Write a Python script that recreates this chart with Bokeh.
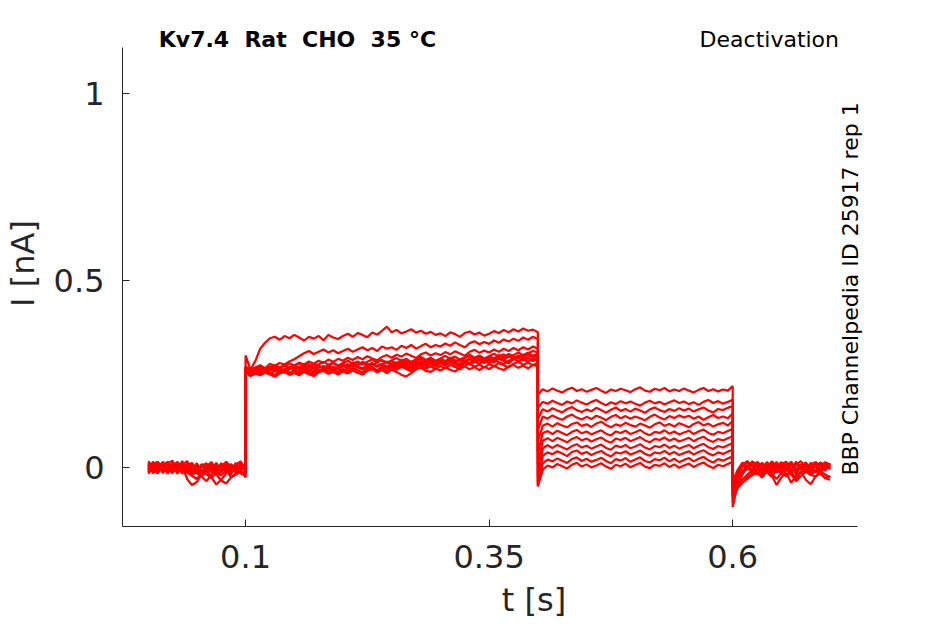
import math
from bokeh.plotting import figure
from bokeh.models import Range1d, FixedTicker, Label, ColumnDataSource
from bokeh.embed import file_html
from bokeh.resources import INLINE

# ---------------- data (time in ms, current in pA) ----------------
t_ms = [
    0, 5, 10, 15, 20, 25, 30, 35, 40, 45, 50, 55, 60, 65, 70, 75, 80, 85, 90, 95, 100,
    100, 105, 110, 115, 120, 125, 130, 135, 140, 145, 150, 155, 160, 165, 170, 175, 180, 185, 190, 195,
    200, 205, 210, 215, 220, 225, 230, 235, 240, 245, 250, 255, 260, 265, 270, 275, 280, 285, 290, 295,
    300, 305, 310, 315, 320, 325, 330, 335, 340, 345, 350, 355, 360, 365, 370, 375, 380, 385, 390, 395, 400,
    400, 405, 410, 415, 420, 425, 430, 435, 440, 445, 450, 455, 460, 465, 470, 475, 480, 485, 490, 495,
    500, 505, 510, 515, 520, 525, 530, 535, 540, 545, 550, 555, 560, 565, 570, 575, 580, 585, 590, 595, 600,
    600, 605, 610, 615, 620, 625, 630, 635, 640, 645, 650, 655, 660, 665, 670, 675, 680, 685, 690, 695, 700,
]

i_pa_01 = [
    6, -10, 14, 4, -16, 11, -6, 18, -12, -22, -30, -14, 8, -4, 13, -10, 6, -18, 9, -8, 14,
    300, 262, 285, 318, 334, 346, 350, 342, 352, 346,
    355, 348, 340, 350, 345, 352, 341, 355, 348, 344,
    352, 358, 350, 360, 355, 349, 361, 356, 366, 377,
    362, 368, 359, 364, 370, 361, 366, 358, 363, 355,
    359, 352, 362, 357, 350, 360, 364, 356, 361, 353,
    358, 365, 360, 368, 362, 370, 364, 372, 366, 369, 362,
    195, 210, 204, 212, 206, 201, 209, 214, 205, 210,
    203, 208, 213, 206, 200, 209, 205, 211, 207, 202,
    210, 215, 206, 203, 211, 207, 213, 204, 209, 205,
    212, 206, 201, 208, 213, 205, 210, 204, 209, 206, 218,
    -105, -45, -18, 4, 14, -8, 11, -4, 17, 6, -12, 9, -6, 15, 2, -10, 13, 4, -8, 11, 0,
]
i_pa_02 = [
    -12, 8, -4, 16, 2, -15, 10, -8, 4, -18, -12, 6, -13, 11, -20, -8, 16, 4, -12, 8, 0,
    270, 262, 268, 274, 266, 278, 272, 280, 276, 284,
    290, 298, 306, 312, 304, 310, 316, 308, 314, 306,
    312, 318, 310, 316, 322, 314, 320, 312, 324, 318,
    322, 315, 326, 320, 328, 318, 325, 331, 322, 328,
    324, 332, 326, 335, 328, 322, 333, 338, 330, 336,
    331, 340, 334, 343, 337, 345, 339, 348, 342, 350, 344,
    160, 176, 171, 179, 173, 168, 177, 172, 180, 174,
    169, 176, 181, 173, 167, 175, 170, 178, 172, 177,
    171, 166, 174, 179, 172, 176, 169, 175, 180, 173,
    177, 170, 175, 168, 176, 181, 173, 178, 171, 176, 182,
    -60, -25, 8, -6, 16, 4, -12, 13, -2, 8, -15, 6, 16, -4, 9, -13, 8, 15, -6, 12, 4,
]
i_pa_03 = [
    17, 4, -8, 12, -13, 6, 15, -4, 10, -8, -14, -24, -36, -18, -6, 12, -4, 8, -14, 6, -10,
    266, 258, 264, 270, 262, 268, 275, 267, 272, 279,
    273, 281, 276, 284, 278, 286, 280, 289, 283, 291,
    286, 294, 288, 296, 290, 298, 292, 287, 296, 301,
    294, 302, 297, 305, 299, 293, 303, 308, 300, 306,
    301, 309, 303, 311, 305, 299, 310, 315, 307, 313,
    308, 316, 310, 318, 312, 320, 314, 322, 316, 324, 318,
    130, 156, 150, 159, 153, 148, 157, 162, 154, 149,
    156, 151, 160, 154, 147, 155, 161, 152, 157, 150,
    158, 153, 147, 156, 161, 154, 149, 157, 152, 159,
    153, 158, 150, 156, 161, 153, 148, 157, 154, 160, 165,
    -75, -38, -16, 6, -10, 14, -4, 10, -13, 12, 2, -8, 15, -12, 6, 13, -6, 9, -15, 8, -4,
]
i_pa_04 = [
    -4, 13, -11, 6, 16, -8, 2, 12, -15, 4, -10, 8, -6, -26, -45, -32, -15, -6, 10, -12, -16,
    262, 252, 258, 264, 256, 261, 267, 259, 264, 270,
    263, 268, 261, 270, 265, 272, 266, 274, 268, 263,
    271, 277, 269, 275, 281, 273, 279, 271, 277, 284,
    276, 282, 274, 286, 279, 285, 277, 283, 289, 281,
    287, 280, 289, 283, 291, 285, 279, 290, 295, 287,
    293, 286, 296, 289, 298, 291, 300, 294, 302, 296, 300,
    100, 137, 131, 140, 133, 128, 137, 142, 134, 129,
    136, 130, 139, 134, 127, 136, 141, 132, 138, 131,
    137, 132, 127, 136, 142, 134, 129, 138, 133, 140,
    134, 139, 131, 137, 128, 135, 141, 133, 137, 132, 145,
    -50, -20, 4, 14, -8, 10, -16, 6, 13, -6, 11, -22, -8, 10, -4, 15, -12, 6, 13, -2, 10,
]
i_pa_05 = [
    10, -15, 6, -6, 12, 19, -10, 4, -30, -46, -38, -18, 4, -12, 6, -13, 8, -8, 13, -15, -20,
    258, 248, 254, 249, 257, 251, 260, 253, 258, 252,
    261, 255, 263, 257, 252, 262, 258, 266, 259, 264,
    258, 267, 261, 269, 263, 271, 265, 259, 270, 266,
    273, 266, 275, 269, 264, 274, 279, 271, 277, 270,
    279, 273, 282, 275, 270, 281, 276, 284, 278, 286,
    280, 288, 282, 277, 286, 291, 284, 289, 283, 292, 287,
    70, 112, 118, 110, 119, 113, 108, 117, 121, 112,
    116, 109, 118, 123, 114, 108, 116, 112, 120, 114,
    110, 118, 113, 107, 116, 121, 112, 117, 110, 119,
    114, 108, 117, 122, 113, 118, 110, 116, 120, 113, 125,
    -65, -48, -32, -24, -16, -10, -22, -6, -16, -30, -14, -4, -18, -36, -22, -10, -20, -6, -16, -28, -22,
]
i_pa_06 = [
    -16, 0, 12, -10, 8, -4, 16, -13, 6, -6, 12, -11, 4, 15, -8, 6, -13, 10, -4, 12, -4,
    268, 258, 264, 259, 267, 262, 270, 264, 259, 268,
    273, 266, 275, 269, 277, 271, 265, 274, 280, 272,
    278, 271, 281, 275, 283, 277, 272, 282, 287, 279,
    285, 278, 288, 282, 276, 286, 291, 283, 289, 281,
    291, 285, 294, 288, 283, 293, 298, 290, 296, 289,
    298, 292, 301, 295, 304, 297, 291, 302, 307, 299, 304,
    40, 92, 98, 90, 99, 93, 87, 96, 101, 92,
    97, 89, 95, 100, 91, 86, 97, 93, 99, 90,
    95, 101, 92, 87, 96, 93, 100, 91, 97, 89,
    94, 99, 90, 97, 102, 93, 88, 96, 92, 98, 104,
    -40, -10, 12, -4, 17, 8, -10, 15, 4, -13, 10, 16, -6, 12, -2, 8, -12, 15, 6, -8, 12,
]
i_pa_07 = [
    8, -6, -15, 13, -4, 10, -12, 8, 18, -10, 4, -16, -8, 8, -18, -34, -42, -26, -18, -11, -13,
    255, 245, 251, 247, 254, 249, 243, 252, 256, 248,
    253, 247, 256, 250, 245, 255, 259, 251, 256, 249,
    258, 252, 260, 254, 249, 259, 263, 255, 261, 253,
    262, 256, 248, 244, 253, 263, 267, 259, 256, 265,
    260, 268, 262, 257, 267, 271, 263, 269, 261, 270,
    264, 272, 266, 261, 271, 275, 267, 273, 265, 276, 270,
    10, 72, 79, 71, 80, 74, 68, 77, 82, 73,
    78, 70, 76, 81, 72, 67, 78, 74, 80, 71,
    76, 82, 73, 68, 77, 74, 81, 72, 78, 70,
    75, 80, 71, 78, 83, 74, 69, 77, 73, 79, 84,
    -80, -55, -40, -30, -20, -12, -26, -10, -20, -46, -26, -14, -40, -22, -10, -32, -44, -24, -14, -28, -32,
]
i_pa_08 = [
    -8, 16, 4, -12, 15, -6, 8, -16, 12, 0, -13, 10, -4, 13, -11, 4, 15, -10, 6, -8, 10,
    264, 255, 261, 256, 265, 259, 266, 260, 254, 263,
    268, 261, 270, 264, 258, 267, 272, 265, 270, 263,
    272, 266, 275, 269, 263, 273, 278, 270, 276, 268,
    277, 271, 280, 274, 268, 279, 284, 276, 282, 274,
    283, 277, 286, 280, 274, 285, 290, 282, 288, 280,
    288, 282, 291, 285, 279, 290, 295, 287, 293, 285, 292,
    -20, 52, 60, 53, 61, 55, 49, 58, 63, 54,
    59, 51, 57, 62, 53, 48, 59, 55, 61, 52,
    57, 63, 54, 49, 58, 55, 62, 53, 59, 51,
    56, 61, 52, 59, 64, 55, 50, 58, 54, 60, 66,
    -55, -28, -8, 6, -14, 10, -4, 13, -11, 4, 15, -8, 10, -18, 6, 12, -10, 4, -15, 8, 2,
]
i_pa_09 = [
    13, -2, -13, 8, -10, 15, 0, -11, 6, 13, -6, -22, -10, 4, -15, 10, -6, -25, -16, -6, -26,
    270, 260, 266, 272, 264, 270, 262, 268, 275, 267,
    273, 279, 271, 277, 269, 276, 283, 275, 281, 273,
    280, 286, 278, 284, 276, 283, 290, 282, 288, 280,
    287, 293, 285, 291, 283, 289, 296, 288, 294, 286,
    292, 299, 291, 297, 289, 295, 302, 294, 300, 292,
    298, 305, 297, 303, 295, 301, 308, 300, 306, 312, 308,
    -40, 32, 41, 36, 44, 38, 31, 42, 46, 37,
    42, 34, 40, 45, 36, 30, 41, 38, 44, 35,
    40, 46, 37, 32, 41, 38, 45, 36, 42, 34,
    39, 44, 35, 42, 47, 38, 33, 41, 37, 43, 48,
    -45, -14, 8, 18, 4, -10, 13, 2, -6, 16, -4, 12, -13, 8, 18, -2, 10, -12, 6, 15, 8,
]
i_pa_10 = [
    -6, 10, 16, -14, 4, -11, 13, 6, -8, 10, -16, 6, 12, -10, 4, -6, 12, -15, 8, 17, -8,
    260, 250, 256, 251, 259, 253, 248, 257, 261, 254,
    259, 252, 261, 256, 250, 260, 264, 257, 262, 255,
    264, 258, 266, 260, 255, 265, 269, 261, 267, 259,
    268, 262, 270, 264, 258, 268, 273, 265, 271, 263,
    272, 266, 275, 269, 263, 273, 278, 270, 276, 268,
    277, 271, 280, 274, 268, 278, 283, 275, 281, 273, 282,
    -48, 12, 22, 17, 25, 19, 13, 23, 28, 18,
    24, 16, 21, 27, 18, 12, 23, 19, 26, 16,
    22, 28, 18, 14, 23, 20, 27, 17, 24, 15,
    21, 26, 17, 24, 29, 20, 14, 23, 19, 25, 30,
    -92, -50, -32, -18, -8, -18, -4, -12, -24, -6, -16, -22, -10, -30, -12, -4, -18, -24, -10, -18, -26,
]
i_pa_11 = [
    2, -12, 8, 12, -6, 4, -16, 10, -4, -15, 8, -8, -18, -28, -12, -20, -8, 4, -12, -4, 6,
    265, 254, 260, 266, 258, 263, 257, 265, 260, 268,
    262, 270, 264, 259, 268, 273, 265, 271, 263, 269,
    275, 268, 277, 271, 265, 274, 280, 272, 278, 270,
    279, 273, 282, 276, 270, 280, 285, 277, 283, 275,
    285, 279, 288, 282, 276, 286, 291, 283, 289, 281,
    290, 284, 293, 287, 281, 291, 296, 288, 294, 299, 295,
    -50, -5, 6, 1, 10, 4, -2, 8, 13, 3,
    9, 1, 6, 12, 3, -3, 8, 4, 11, 1,
    7, 13, 3, -1, 8, 5, 12, 2, 9, 0,
    6, 11, 2, 9, 14, 5, -1, 8, 4, 10, 16,
    -35, -6, 14, 2, -12, 16, 6, -8, 12, -4, 13, 4, -10, 16, -6, 10, 2, -12, 15, -4, 6,
]

x_ticks = [0.1, 0.35, 0.6]
x_tick_labels = ["0.1", "0.35", "0.6"]
y_ticks = [0, 0.5, 1]
y_tick_labels = ["0", "0.5", "1"]
x_limits = (-0.0263, 0.7277)
y_limits = (-0.157, 1.124)

# double gaps kept visible in SVG with a no-break space before each normal space
title_text = "Kv7.4\u00a0 Rat\u00a0 CHO\u00a0 35 °C"
protocol_text = "Deactivation"
source_text = "BBP Channelpedia ID 25917 rep 1"
x_label = "t [s]"
y_label = "I [nA]"

# ---------------- figure ----------------
traces = [i_pa_01, i_pa_02, i_pa_03, i_pa_04, i_pa_05, i_pa_06,
          i_pa_07, i_pa_08, i_pa_09, i_pa_10, i_pa_11]
t_s = [v / 1000.0 for v in t_ms]
src = ColumnDataSource(dict(
    xs=[t_s for _ in traces],
    ys=[[v / 1000.0 for v in tr] for tr in traces],
))

FONT = "DejaVu Sans"
AX = "#262626"
W, H = 945, 624

# the frame extends to the top and right edges so the annotations are not clipped;
# the axis lines are bounded to the axes limits
p = figure(width=W, height=H,
           x_range=Range1d(x_limits[0], 0.8184), y_range=Range1d(y_limits[0], 1.2485),
           output_backend="svg", toolbar_location=None,
           min_border_left=122, min_border_right=0,
           min_border_top=0, min_border_bottom=98)
p.outline_line_color = None
p.background_fill_color = "white"
p.border_fill_color = "white"
p.grid.visible = False

p.multi_line(xs="xs", ys="ys", source=src, line_color="#ff0000", line_width=2.2)

for ax in (p.xaxis[0], p.yaxis[0]):
    ax.axis_line_color = AX
    ax.axis_line_width = 1
    ax.major_tick_line_color = AX
    ax.major_tick_in = 7
    ax.major_tick_out = 0
    ax.minor_tick_line_color = None
    ax.major_label_text_font = FONT
    ax.major_label_text_font_size = "32px"
    ax.major_label_text_color = AX
    ax.axis_label_text_font = FONT
    ax.axis_label_text_font_size = "32px"
    ax.axis_label_text_font_style = "normal"
    ax.axis_label_text_color = AX

p.xaxis.bounds = x_limits
p.yaxis.bounds = y_limits
p.xaxis.ticker = FixedTicker(ticks=x_ticks)
p.xaxis.major_label_overrides = {k: v for k, v in zip(x_ticks, x_tick_labels)}
p.yaxis.ticker = FixedTicker(ticks=y_ticks)
p.yaxis.major_label_overrides = {k: v for k, v in zip(y_ticks, y_tick_labels)}
p.xaxis.axis_label = x_label
p.yaxis.axis_label = y_label
p.xaxis.major_label_standoff = 18
p.xaxis.axis_label_standoff = 10
p.yaxis.major_label_standoff = 18
p.yaxis.axis_label_standoff = 9

p.add_layout(Label(x=0.0109, y=1.145, text=title_text, text_font=FONT,
                   text_font_size="22px", text_font_style="bold", text_color="black",
                   text_align="left", text_baseline="alphabetic"))
p.add_layout(Label(x=0.566, y=1.145, text=protocol_text, text_font=FONT,
                   text_font_size="22px", text_color="black",
                   text_align="left", text_baseline="alphabetic"))
p.add_layout(Label(x=0.7208, y=-0.021, text=source_text, text_font=FONT,
                   text_font_size="22px", text_color="black", angle=math.pi / 2,
                   text_align="left", text_baseline="alphabetic"))

open("out.html", "w").write(file_html(p, INLINE))
